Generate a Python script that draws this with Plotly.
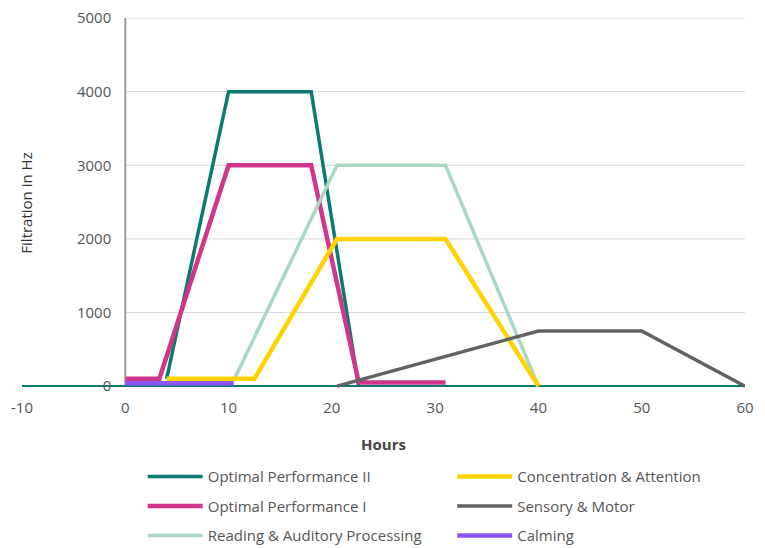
import plotly.graph_objects as go

# ---- data ----
op2_x = [4, 10, 18, 22.6]
op2_y = [100, 4000, 4000, 0]
op1_x = [0, 3.3, 10, 18, 22.6, 31]
op1_y = [100, 100, 3000, 3000, 50, 50]
read_x = [10.5, 20.5, 31, 40]
read_y = [80, 3000, 3000, 0]
conc_x = [4, 12.5, 20.5, 31, 40]
conc_y = [100, 100, 2000, 2000, 0]
sens_x = [20.5, 40, 50, 60]
sens_y = [0, 750, 750, 0]
calm_x = [0, 10.5]
calm_y = [40, 40]

x_ticks = [-10, 0, 10, 20, 30, 40, 50, 60]
x_labels = ["-10", "0", "10", "20", "30", "40", "50", "60"]
y_ticks = [0, 1000, 2000, 3000, 4000, 5000]

FONT = "Open Sans"
TXT = "#555555"

series = [
    ("Optimal Performance II", op2_x, op2_y, "#0b7a70", 3.5, "legend"),
    ("Optimal Performance I", op1_x, op1_y, "#d1358c", 4.5, "legend"),
    ("Reading & Auditory Processing", read_x, read_y, "#a9d8c2", 3.5, "legend"),
    ("Concentration & Attention", conc_x, conc_y, "#ffd200", 4.5, "legend2"),
    ("Sensory & Motor", sens_x, sens_y, "#626262", 3.5, "legend2"),
    ("Calming", calm_x, calm_y, "#8a55f0", 4.5, "legend2"),
]

fig = go.Figure()
for name, xs, ys, col, w, lg in series:
    fig.add_trace(go.Scatter(x=xs, y=ys, mode="lines", name=name,
                             line=dict(color=col, width=w),
                             legend=lg, legendgroup=name))

# horizontal gridlines from the y axis (x=0) to the right end
for v in y_ticks[1:]:
    fig.add_shape(type="line", xref="x", yref="y", x0=0, x1=60, y0=v, y1=v,
                  line=dict(color="#d9d9d9", width=1), layer="below")
# y axis line at x=0
fig.add_shape(type="line", xref="x", yref="y", x0=0, x1=0, y0=0, y1=5000,
              line=dict(color="#9a9a9a", width=2), layer="below")

fig.update_layout(
    width=765, height=548,
    margin=dict(l=14, r=28, t=10, b=168, autoexpand=False),
    paper_bgcolor="white", plot_bgcolor="white",
    font=dict(family=FONT, size=15, color=TXT),
    xaxis=dict(range=[-10, 60], tickvals=x_ticks, ticktext=x_labels, showgrid=False,
               zeroline=False, showline=False, ticks="", automargin=False,
               ticklabelstandoff=9, ticklabeloverflow="allow",
               title=dict(text="<b>Hours</b>", font=dict(size=15, color="#444"), standoff=23)),
    yaxis=dict(range=[-25, 5000], tickvals=y_ticks, showgrid=False,
               zeroline=True, zerolinecolor="#0b7a70", zerolinewidth=2,
               showline=False, ticks="", automargin=False,
               anchor="free", position=10/70, ticklabelstandoff=14,
               ticklabeloverflow="allow",
               title=dict(text="Filtration in Hz", font=dict(size=15, color="#333"), standoff=39)),
    legend=dict(x=0.167, y=-0.195, xanchor="left", yanchor="top",
                orientation="v", tracegroupgap=7, itemwidth=55,
                font=dict(size=15, color=TXT, family=FONT)),
    legend2=dict(x=0.595, y=-0.195, xanchor="left", yanchor="top",
                 orientation="v", tracegroupgap=7, itemwidth=55,
                 font=dict(size=15, color=TXT, family=FONT)),
    showlegend=True,
)

fig.write_html("out.html")
